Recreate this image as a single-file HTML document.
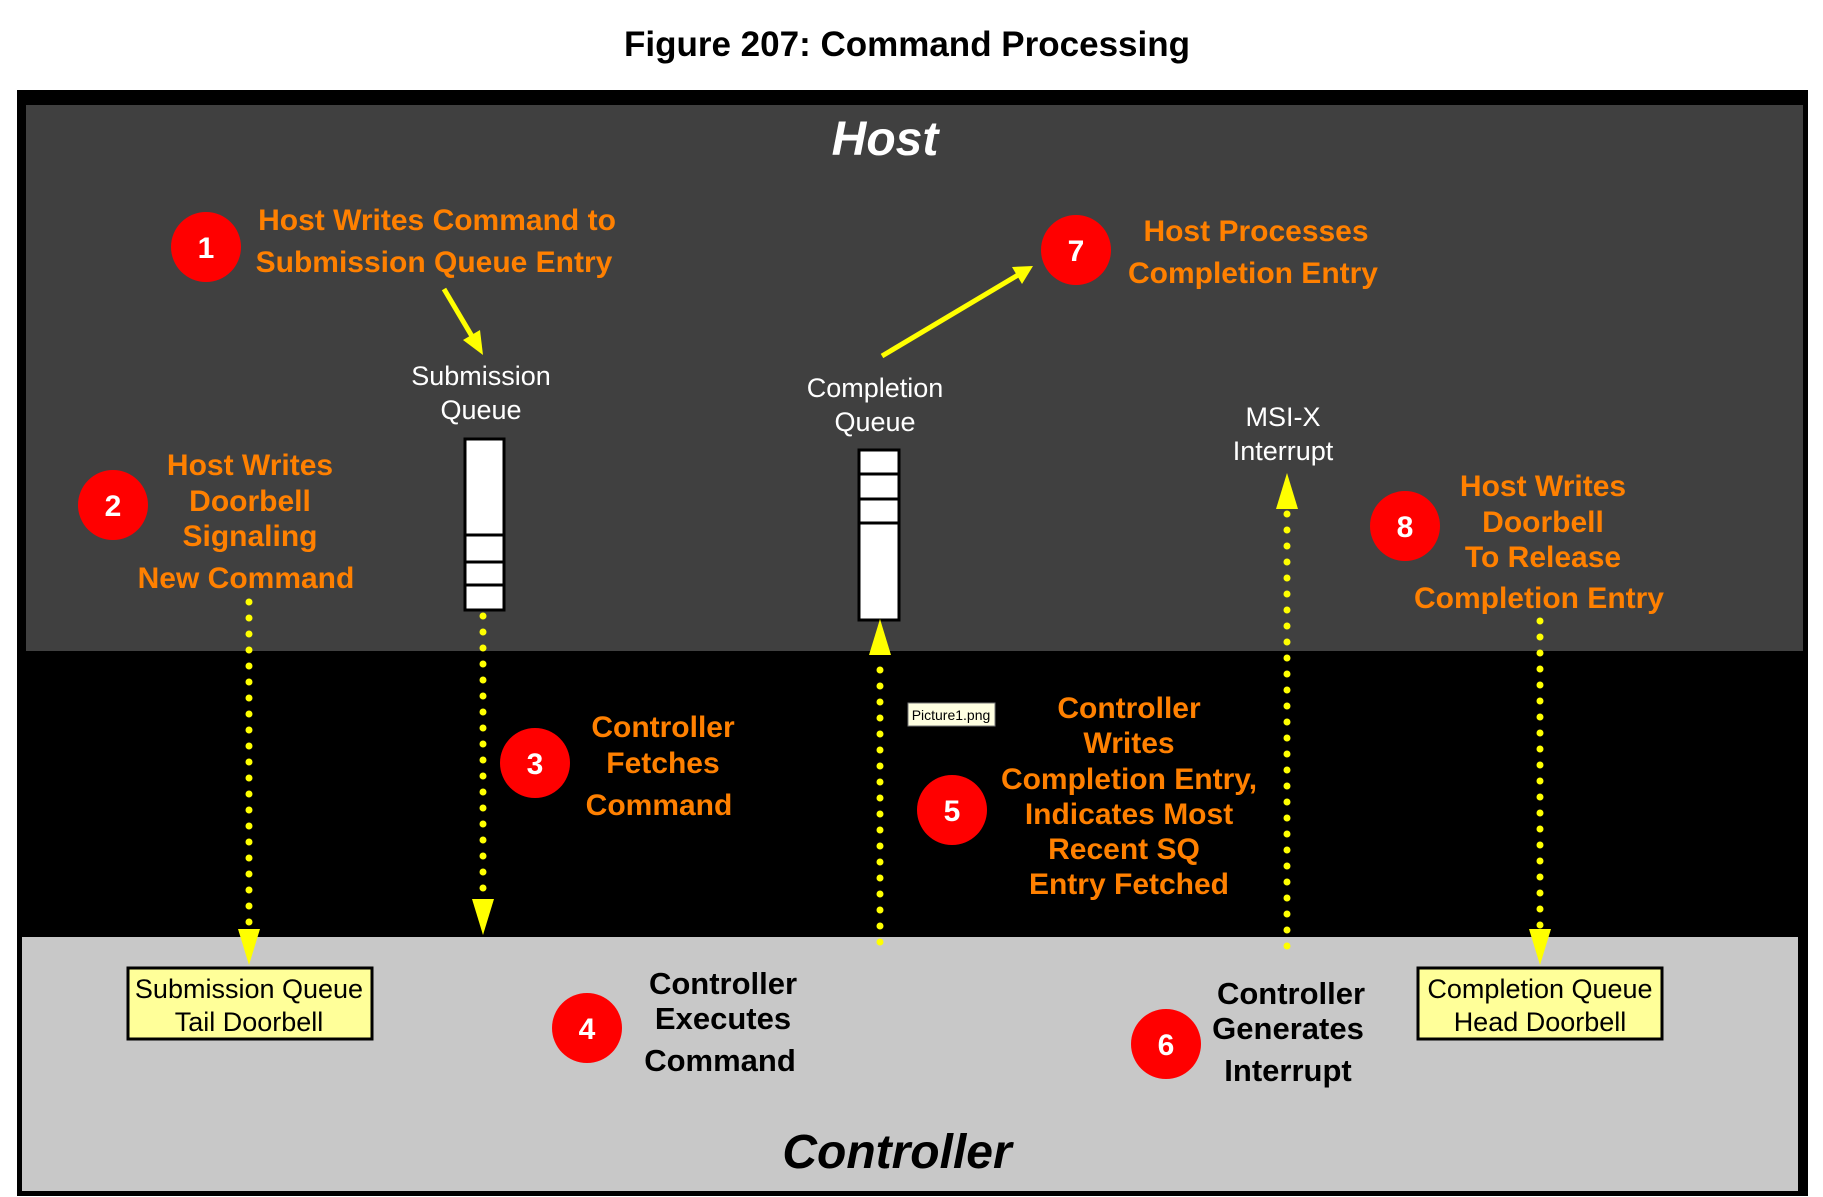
<!DOCTYPE html>
<html><head><meta charset="utf-8"><style>
html,body{margin:0;padding:0;background:#fff;}
svg{display:block;}
.o{fill:#ff8000;font-family:"Liberation Sans",sans-serif;font-size:30px;font-weight:bold;text-anchor:middle;}
.k{fill:#000;font-family:"Liberation Sans",sans-serif;font-size:31px;font-weight:bold;text-anchor:middle;}
.w{fill:#fff;font-family:"Liberation Sans",sans-serif;font-size:27px;text-anchor:middle;}
.b{fill:#000;font-family:"Liberation Sans",sans-serif;font-size:27px;text-anchor:middle;}
.n{fill:#fff;font-family:"Liberation Sans",sans-serif;font-size:30px;font-weight:bold;text-anchor:middle;}
.d{stroke:#ffff00;stroke-width:7;stroke-linecap:round;stroke-dasharray:0 16;fill:none;}
</style></head><body>
<svg width="1823" height="1197" viewBox="0 0 1823 1197" xmlns="http://www.w3.org/2000/svg">
<text x="907" y="56" style="font-family:'Liberation Sans',sans-serif;font-size:35px;font-weight:bold;text-anchor:middle">Figure 207: Command Processing</text>
<rect x="17" y="90" width="1791" height="1106" fill="#000"/>
<rect x="26" y="105" width="1777" height="546" fill="#404040"/>
<rect x="22" y="937" width="1776" height="254" fill="#c8c8c8"/>
<text x="885" y="155" style="fill:#fff;font-family:'Liberation Sans',sans-serif;font-size:48px;font-weight:bold;font-style:italic;text-anchor:middle">Host</text>
<text x="897" y="1168" style="fill:#000;font-family:'Liberation Sans',sans-serif;font-size:48px;font-weight:bold;font-style:italic;text-anchor:middle">Controller</text>

<rect x="465" y="439" width="39" height="171" fill="#fff" stroke="#000" stroke-width="3"/>
<line x1="465" y1="535" x2="504" y2="535" stroke="#000" stroke-width="3"/>
<line x1="465" y1="562" x2="504" y2="562" stroke="#000" stroke-width="3"/>
<line x1="465" y1="585" x2="504" y2="585" stroke="#000" stroke-width="3"/>
<rect x="859" y="450" width="40" height="170" fill="#fff" stroke="#000" stroke-width="3"/>
<line x1="859" y1="474" x2="899" y2="474" stroke="#000" stroke-width="3"/>
<line x1="859" y1="499" x2="899" y2="499" stroke="#000" stroke-width="3"/>
<line x1="859" y1="523" x2="899" y2="523" stroke="#000" stroke-width="3"/>

<line class="d" x1="249" y1="602" x2="249" y2="930"/>
<polygon points="238,929 260,929 249,965" fill="#ffff00"/>
<line class="d" x1="483" y1="616" x2="483" y2="900"/>
<polygon points="472,899 494,899 483,935" fill="#ffff00"/>
<line class="d" x1="880" y1="942" x2="880" y2="656"/>
<polygon points="869,655 891,655 880,619" fill="#ffff00"/>
<line class="d" x1="1287" y1="946" x2="1287" y2="510"/>
<polygon points="1276,509 1298,509 1287,473" fill="#ffff00"/>
<line class="d" x1="1540" y1="621" x2="1540" y2="930"/>
<polygon points="1529,929 1551,929 1540,965" fill="#ffff00"/>

<line x1="444" y1="289" x2="473" y2="338" stroke="#ffff00" stroke-width="5"/>
<polygon points="483,355 463,340 480,330" fill="#ffff00"/>
<line x1="882" y1="356" x2="1018" y2="275" stroke="#ffff00" stroke-width="5"/>
<polygon points="1033,266 1022,284 1012,267" fill="#ffff00"/>

<rect x="128" y="968" width="244" height="71" fill="#ffff99" stroke="#000" stroke-width="3"/>
<text class="b" x="249" y="998">Submission Queue</text>
<text class="b" x="249" y="1031">Tail Doorbell</text>
<rect x="1418" y="968" width="244" height="71" fill="#ffff99" stroke="#000" stroke-width="3"/>
<text class="b" x="1540" y="998">Completion Queue</text>
<text class="b" x="1540" y="1031">Head Doorbell</text>

<rect x="908" y="703" width="87" height="23" fill="#ffffe1" stroke="#777" stroke-width="1"/>
<text x="951" y="720" style="font-family:'Liberation Sans',sans-serif;font-size:14px;text-anchor:middle">Picture1.png</text>

<text class="w" x="481" y="385">Submission</text>
<text class="w" x="481" y="419">Queue</text>
<text class="w" x="875" y="397">Completion</text>
<text class="w" x="875" y="431">Queue</text>
<text class="w" x="1283" y="426">MSI-X</text>
<text class="w" x="1283" y="460">Interrupt</text>

<g fill="#ff0000">
<circle cx="206" cy="247" r="35"/><circle cx="113" cy="505" r="35"/>
<circle cx="535" cy="763" r="35"/><circle cx="587" cy="1028" r="35"/>
<circle cx="952" cy="810" r="35"/><circle cx="1166" cy="1044" r="35"/>
<circle cx="1076" cy="250" r="35"/><circle cx="1405" cy="526" r="35"/>
</g>
<text class="n" x="206" y="258">1</text><text class="n" x="113" y="516">2</text>
<text class="n" x="535" y="774">3</text><text class="n" x="587" y="1039">4</text>
<text class="n" x="952" y="821">5</text><text class="n" x="1166" y="1055">6</text>
<text class="n" x="1076" y="261">7</text><text class="n" x="1405" y="537">8</text>

<text class="o" x="437" y="230">Host Writes Command to</text>
<text class="o" x="434" y="272">Submission Queue Entry</text>
<text class="o" x="250" y="475">Host Writes</text>
<text class="o" x="250" y="511">Doorbell</text>
<text class="o" x="250" y="546">Signaling</text>
<text class="o" x="246" y="588">New Command</text>
<text class="o" x="663" y="737">Controller</text>
<text class="o" x="663" y="773">Fetches</text>
<text class="o" x="659" y="815">Command</text>
<text class="o" x="1129" y="718">Controller</text>
<text class="o" x="1129" y="753">Writes</text>
<text class="o" x="1129" y="789">Completion Entry,</text>
<text class="o" x="1129" y="824">Indicates Most</text>
<text class="o" x="1124" y="859">Recent SQ</text>
<text class="o" x="1129" y="894">Entry Fetched</text>
<text class="o" x="1256" y="241">Host Processes</text>
<text class="o" x="1253" y="283">Completion Entry</text>
<text class="o" x="1543" y="496">Host Writes</text>
<text class="o" x="1543" y="532">Doorbell</text>
<text class="o" x="1543" y="567">To Release</text>
<text class="o" x="1539" y="608">Completion Entry</text>

<text class="k" x="723" y="994">Controller</text>
<text class="k" x="723" y="1029">Executes</text>
<text class="k" x="720" y="1071">Command</text>
<text class="k" x="1291" y="1004">Controller</text>
<text class="k" x="1288" y="1039">Generates</text>
<text class="k" x="1288" y="1081">Interrupt</text>
</svg>
</body></html>
